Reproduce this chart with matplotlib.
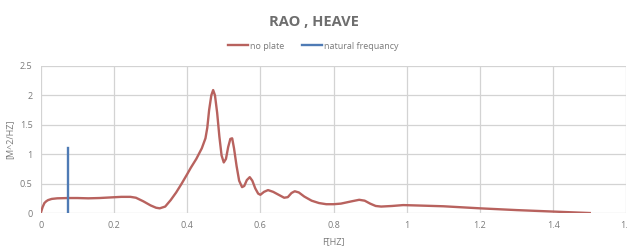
import matplotlib.pyplot as plt

# RAO heave curve
freq = [0.000, 0.005, 0.010, 0.015, 0.020, 0.030, 0.045, 0.075, 0.100, 0.130,
        0.160, 0.190, 0.220, 0.245, 0.260, 0.280, 0.300, 0.315, 0.325, 0.340,
        0.355, 0.370, 0.385, 0.400, 0.410, 0.425, 0.440, 0.450, 0.455, 0.460,
        0.466, 0.471, 0.476, 0.482, 0.488, 0.494, 0.500, 0.506, 0.512, 0.518,
        0.523, 0.528, 0.535, 0.542, 0.550, 0.556, 0.563, 0.571, 0.578, 0.586,
        0.594, 0.600, 0.610, 0.621, 0.635, 0.650, 0.665, 0.675, 0.685, 0.694,
        0.705, 0.720, 0.740, 0.760, 0.780, 0.800, 0.820, 0.850, 0.870, 0.885,
        0.900, 0.915, 0.930, 0.960, 0.990, 1.020, 1.100, 1.200, 1.300, 1.400,
        1.500]
rao = [0.00, 0.10, 0.17, 0.20, 0.22, 0.24, 0.25, 0.255, 0.255, 0.25,
       0.255, 0.265, 0.275, 0.275, 0.26, 0.20, 0.13, 0.09, 0.08, 0.11,
       0.22, 0.35, 0.50, 0.66, 0.77, 0.92, 1.10, 1.27, 1.45, 1.75,
       2.00, 2.09, 2.00, 1.70, 1.30, 0.98, 0.86, 0.92, 1.12, 1.26,
       1.27, 1.10, 0.80, 0.55, 0.44, 0.46, 0.56, 0.61, 0.55, 0.42,
       0.33, 0.31, 0.36, 0.39, 0.36, 0.31, 0.26, 0.27, 0.34, 0.37,
       0.35, 0.28, 0.21, 0.17, 0.15, 0.15, 0.16, 0.20, 0.225, 0.21,
       0.16, 0.12, 0.11, 0.12, 0.135, 0.13, 0.115, 0.08, 0.05, 0.025,
       0.00]

# natural frequency marker
nat_x = [0.075, 0.075]
nat_y = [0.0, 1.1]

plt.rcParams['font.family'] = ['Open Sans', 'DejaVu Sans']
grey = '#7a7a7a'

fig = plt.figure(figsize=(6.27, 2.46), dpi=100)
ax = fig.add_axes([0.065, 0.134, 0.934, 0.598])

ax.plot(freq, rao, color='#b8625e', lw=1.7, label='no plate', zorder=3)
ax.plot(nat_x, nat_y, color='#4f7bb5', lw=1.7, label='natural frequancy', zorder=3)

ax.set_xlim(0, 1.6)
ax.set_ylim(0, 2.5)
ax.set_xticks([0, 0.2, 0.4, 0.6, 0.8, 1.0, 1.2, 1.4, 1.6])
ax.set_xticklabels(['0', '0.2', '0.4', '0.6', '0.8', '1', '1.2', '1.4', '1.6'])
ax.set_yticks([0, 0.5, 1, 1.5, 2, 2.5])
ax.set_yticklabels(['0', '0.5', '1', '1.5', '2', '2.5'])
ax.grid(True, color='#d3d3d3', lw=0.9)
ax.set_axisbelow(True)
for s in ax.spines.values():
    s.set_visible(False)
ax.tick_params(length=0, labelsize=6.5, colors=grey, pad=6)

ax.set_xlabel('F[HZ]', fontsize=6.5, color=grey, labelpad=5)
ax.set_ylabel('[M^2/HZ]', fontsize=6.5, color=grey, labelpad=4)

fig.text(0.5, 0.912, 'RAO , HEAVE', ha='center', va='center',
         fontsize=10.5, fontweight='bold', color='#6e6e6e')
fig.legend(loc='center', bbox_to_anchor=(0.5, 0.813), ncol=2, frameon=False,
           fontsize=6.5, labelcolor=grey, handlelength=2.2, handletextpad=0.2,
           columnspacing=2.0)

fig.savefig('out.png', dpi=100)
